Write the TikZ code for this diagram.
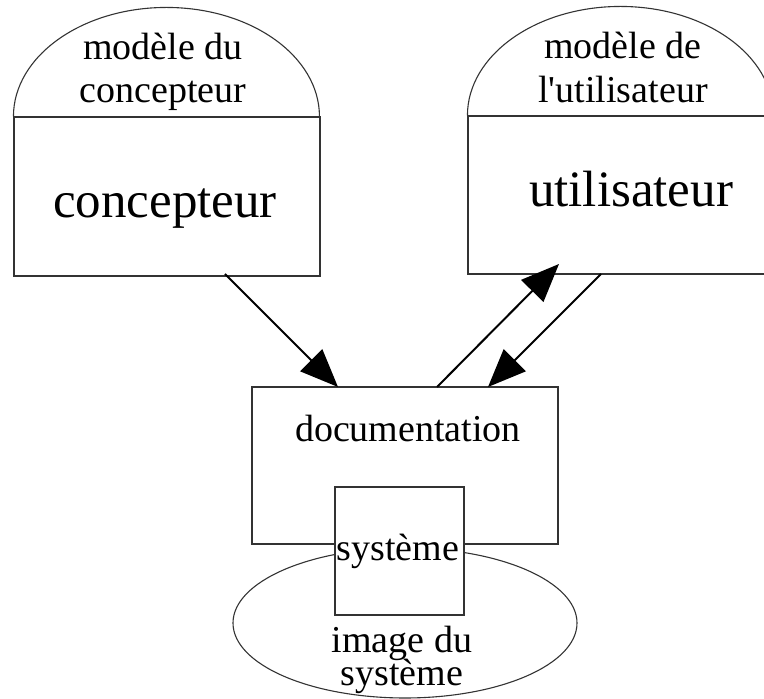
\documentclass[tikz,border=0pt]{standalone}
\usepackage{fontspec}
\setmainfont{Liberation Serif}[Ligatures=TeXOff]
\usetikzlibrary{arrows.meta}
\begin{document}
\begin{tikzpicture}[x=1pt,y=1pt,
  outline/.style={draw=black!80, line width=1.1pt},
  frame/.style={outline, rectangle, inner sep=0pt},
  small/.style={font=\fontsize{38}{43}\selectfont, align=center, inner sep=0pt},
  big/.style={font=\fontsize{51}{56}\selectfont, inner sep=0pt, anchor=base},
  flow/.style={line width=2pt, -{Triangle[length=38pt, width=31pt]}}]
\useasboundingbox (0,0) rectangle (764,699);

% system image: ellipse under the two boxes
\draw[outline] (405,76) ellipse [x radius=172, y radius=75];
\node[small, font=\fontsize{38}{40}\selectfont, anchor=south] (img) at (402,4.8)
  {image du\\[-7pt]système};

% designer: model dome over the rectangle
\node[frame, minimum width=306, minimum height=159] (lrect) at (167,502.5) {};
\draw[outline] (lrect.north west) arc[start angle=180, end angle=0, x radius=153, y radius=109];
\node[small, anchor=south] (lmod) at (163,587.8) {modèle du\\concepteur};
\node[big] (ltext) at (165,481) {concepteur};

% user: model dome over the rectangle
\node[frame, minimum width=306, minimum height=158] (rrect) at (621,504) {};
\draw[outline] (rrect.north west) arc[start angle=180, end angle=0, x radius=153, y radius=109];
\node[small, font=\fontsize{38}{44}\selectfont, anchor=south] (rmod) at (623,596)
  {modèle de\\l'utilisateur};
\node[big] (rtext) at (631,492) {utilisateur};

% documentation and system boxes
\node[frame, minimum width=306, minimum height=157] (doc) at (405,233.5) {};
\node[small, anchor=base] (doctext) at (408,257) {documentation};
\node[frame, fill=white, minimum width=129, minimum height=128] (sys) at (399.5,148) {};
\node[small, anchor=base] (systext) at (398,138) {système};

% connector end points on the box edges
\coordinate (a1s) at (225,425);
\coordinate (a1e) at (338,312);
\coordinate (a2s) at (437,312);
\coordinate (a2e) at (559,435);
\coordinate (a3s) at (601,425);
\coordinate (a3e) at (488,312);

\draw[flow] (a1s) -- (a1e);
\draw[flow] (a2s) -- (a2e);
\draw[flow] (a3s) -- (a3e);
\end{tikzpicture}
\end{document}
